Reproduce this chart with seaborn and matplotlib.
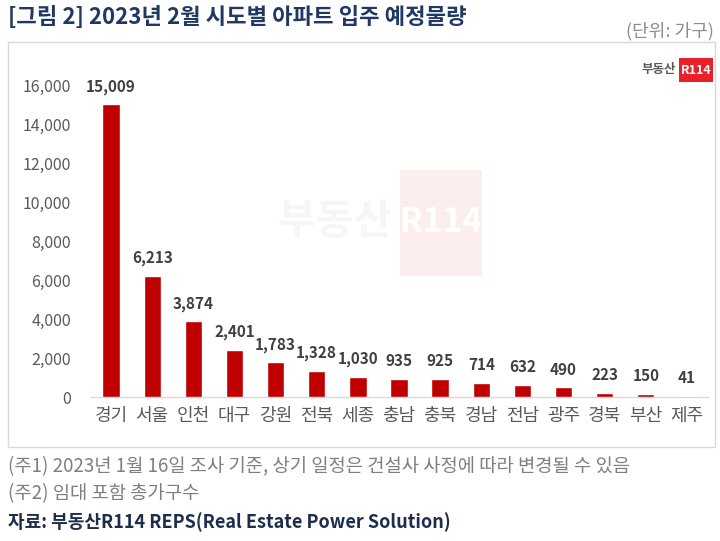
import matplotlib
matplotlib.use("Agg")
import matplotlib.pyplot as plt
import seaborn as sns
import pandas as pd
from matplotlib.patches import Rectangle

regions = ["경기", "서울", "인천", "대구", "강원", "전북", "세종", "충남", "충북", "경남", "전남", "광주", "경북", "부산", "제주"]
units = [15009, 6213, 3874, 2401, 1783, 1328, 1030, 935, 925, 714, 632, 490, 223, 150, 41]
yticks = [0, 2000, 4000, 6000, 8000, 10000, 12000, 14000, 16000]

sns.set_theme(style="white")
plt.rcParams['font.family'] = ['Noto Sans CJK KR', 'DejaVu Sans']

W, H = 720, 541
fig = plt.figure(figsize=(7.2, 5.41), dpi=100)

def fx(px):
    return px / W

def fy(py):
    return 1 - py / H

# chart box
fig.patches.append(Rectangle((fx(8), fy(447)), fx(707), (447 - 42) / H,
                             transform=fig.transFigure, facecolor="white",
                             edgecolor="#d9d9d9", linewidth=1.0, zorder=-2))

# watermark
fig.text(fx(392), fy(222), "부동산", fontsize=30, fontweight="bold",
         color="#f6f6f6", ha="right", va="center", zorder=-1)
fig.patches.append(Rectangle((fx(400), fy(276)), fx(82), (276 - 170) / H,
                             transform=fig.transFigure, facecolor="#fdeeee",
                             edgecolor="none", zorder=-1.5))
fig.text(fx(441), fy(222), "R114", fontsize=24, fontweight="bold",
         color="#ffffff", ha="center", va="center", zorder=-1)

ax = fig.add_axes([fx(90.5), fy(397), fx(617), (397 - 85) / H])
ax.set_facecolor("none")
df = pd.DataFrame({"region": regions, "units": units})
sns.barplot(data=df, x="region", y="units", color="#C00000", saturation=1,
            width=0.42, ax=ax, zorder=3)
ax.set_xlim(-0.5, len(regions) - 0.5)
ax.set_ylim(0, 16000)
ax.set_yticks(yticks)
ax.set_yticklabels([f"{v:,}" for v in yticks], color="#595959", fontsize=11.5)
ax.tick_params(axis="x", colors="#595959", labelsize=13, length=0, pad=7)
ax.tick_params(axis="y", length=0, pad=14)
ax.set_xlabel("")
ax.set_ylabel("")
for s in ["top", "right", "left"]:
    ax.spines[s].set_visible(False)
ax.spines["bottom"].set_color("#d9d9d9")
ax.spines["bottom"].set_linewidth(1.0)
ax.grid(False)

for i, v in enumerate(units):
    ax.annotate(f"{v:,}", (i, v), xytext=(0, 7), textcoords="offset points",
                ha="center", va="bottom", fontsize=11, fontweight="bold",
                color="#404040", annotation_clip=False)

# logo top right
fig.text(fx(676), fy(70), "부동산", fontsize=9, fontweight="bold",
         color="#595959", ha="right", va="center")
fig.patches.append(Rectangle((fx(679), fy(82)), fx(34), (82 - 58) / H,
                             transform=fig.transFigure, facecolor="#e8202a",
                             edgecolor="none", zorder=2))
fig.text(fx(696), fy(70), "R114", fontsize=9, fontweight="bold",
         color="white", ha="center", va="center", zorder=3)

# titles
fig.text(fx(8), fy(18), "[그림 2] 2023년 2월 시도별 아파트 입주 예정물량",
         fontsize=16, fontweight="bold", color="#1f3864", ha="left", va="center")
fig.text(fx(714), fy(31), "(단위: 가구)", fontsize=13, color="#8c8c8c",
         ha="right", va="center")

# footnotes
fig.text(fx(8), fy(467), "(주1) 2023년 1월 16일 조사 기준, 상기 일정은 건설사 사정에 따라 변경될 수 있음",
         fontsize=13.5, color="#7f7f7f", ha="left", va="center")
fig.text(fx(8), fy(494), "(주2) 임대 포함 총가구수",
         fontsize=13.5, color="#7f7f7f", ha="left", va="center")
fig.text(fx(8), fy(522), "자료: 부동산R114 REPS(Real Estate Power Solution)",
         fontsize=13, fontweight="bold", color="#1f2d4d", ha="left", va="center")

fig.savefig("out.png", dpi=100)
